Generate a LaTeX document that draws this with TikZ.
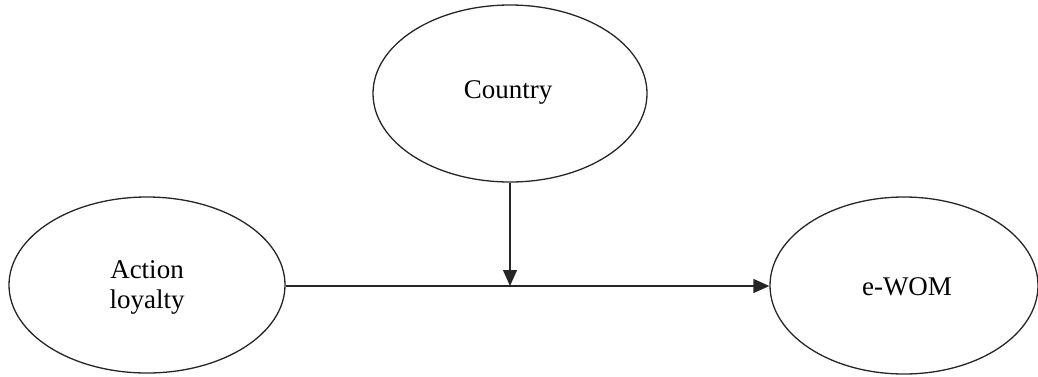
\documentclass[tikz,border=0pt]{standalone}
\usepackage{fontspec}
\setmainfont{Liberation Serif}
\usetikzlibrary{shapes.geometric,arrows.meta}
\begin{document}
\begin{tikzpicture}[x=1pt,y=-1pt,
  construct/.style={draw=black!85,line width=1.3pt,ellipse,inner sep=0pt},
  conn/.style={draw=black!85,line width=1.3pt,-{Triangle[length=16pt,width=14pt]}},
  lbl/.style={font=\fontsize{27}{30}\selectfont,align=center}]
\useasboundingbox (0,0) rectangle (1038,376);
\node[construct,minimum width=276pt,minimum height=176pt] (al) at (147,285) {};
\node[construct,minimum width=274pt,minimum height=177pt] (co) at (510,93.5) {};
\node[construct,minimum width=268pt,minimum height=177pt] (ew) at (904,285.5) {};
\node[lbl] (alt) at (147,287) {Action\\loyalty};
\node[lbl] (cot) at (508,92) {Country};
\node[lbl] (ewt) at (907,287) {e-WOM};
\draw[conn] (al.east |- 0,286) -- (ew.west |- 0,286);
\coordinate (mid) at (510,286);
\draw[conn] (co.south) -- (mid);
\end{tikzpicture}
\end{document}
